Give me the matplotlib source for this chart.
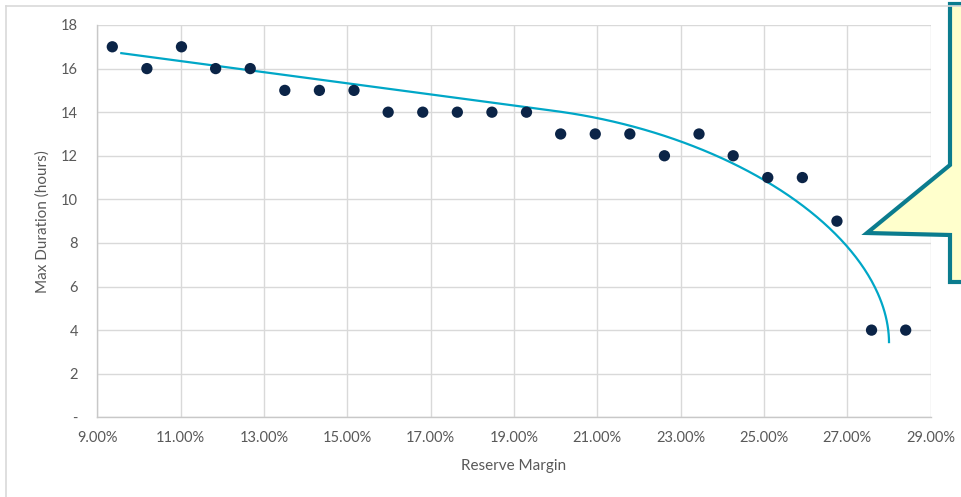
import numpy as np
import matplotlib
matplotlib.use("Agg")
import matplotlib.pyplot as plt
from matplotlib.ticker import FuncFormatter
from matplotlib.patches import Polygon
from matplotlib.lines import Line2D
from matplotlib.transforms import Affine2D

plt.rcParams['font.family'] = ['Lato', 'DejaVu Sans']

# Reserve margin (%) and maximum storage duration (hours)
reserve_margin = [9.36, 10.19, 11.02, 11.84, 12.67, 13.50, 14.33, 15.16,
                  15.98, 16.81, 17.64, 18.47, 19.30, 20.12, 20.95, 21.78,
                  22.61, 23.44, 24.26, 25.09, 25.92, 26.75, 27.58, 28.40]
max_duration = [17, 16, 17, 16, 16, 15, 15, 15,
                14, 14, 14, 14, 14, 13, 13, 13,
                12, 13, 12, 11, 11, 9, 4, 4]

# Trend curve: linear decline joined to an elliptical drop-off
trend_x_end = 28.0      # margin where duration collapses
trend_y_end = 3.4       # duration at the collapse point
trend_slope = 0.255     # hours lost per % of margin on the linear part
trend_drop = 8.61       # height of the elliptical drop-off
trend_width = 8.0       # width (in % margin) of the drop-off
trend_x_start = 9.55

x_ticks = [9, 11, 13, 15, 17, 19, 21, 23, 25, 27, 29]
y_ticks = [0, 2, 4, 6, 8, 10, 12, 14, 16, 18]

W, H = 961, 497
fig = plt.figure(figsize=(W / 100, H / 100), dpi=100)
ax = fig.add_axes([97.3 / W, 1 - 417.3 / H, (930.7 - 97.3) / W, (417.3 - 25) / H])

grid_c = '#D9D9D9'
text_c = '#595959'

ax.set_xlim(9, 29)
ax.set_ylim(0, 18)
ax.set_xticks(x_ticks)
ax.set_yticks(y_ticks)
ax.grid(True, color=grid_c, linewidth=1.0, zorder=0)
ax.set_axisbelow(True)
for side in ['top', 'right']:
    ax.spines[side].set_visible(False)
for side in ['left', 'bottom']:
    ax.spines[side].set_color('#C8C8C8')
    ax.spines[side].set_linewidth(1.0)
ax.tick_params(length=0, labelsize=10.5, colors=text_c, pad=10)
ax.tick_params(axis='y', pad=14)
ax.xaxis.set_major_formatter(FuncFormatter(lambda v, p: f"{v:.2f}%"))
ax.yaxis.set_major_formatter(FuncFormatter(lambda v, p: "-" if v == 0 else f"{v:g}"))

ax.set_xlabel('Reserve Margin', fontsize=11, color=text_c, labelpad=10)
ax.set_ylabel('Max Duration (hours)', fontsize=11, color=text_c, labelpad=8)

# trend curve
theta = np.linspace(0, np.pi / 2, 200)
d_arc = trend_width * (1 - np.cos(theta))
d_lin = np.linspace(trend_width, trend_x_end - trend_x_start, 50)
d_all = np.concatenate([d_arc, d_lin[1:]])
g_all = np.concatenate([trend_drop * np.sin(theta), np.full(len(d_lin) - 1, trend_drop)])
tx = trend_x_end - d_all
ty = trend_y_end + trend_slope * d_all + g_all
ax.plot(tx, ty, color='#00A7C7', linewidth=1.6, zorder=2, solid_capstyle='butt')

ax.scatter(reserve_margin, max_duration, s=66, color='#0B2447', zorder=3,
           edgecolors='none')

# outer chart frame (pixel coordinates, origin top-left)
px = Affine2D().scale(1, -1).translate(0, H)
frame_c = '#D9D9D9'
fig.add_artist(Line2D([6, 6], [6, H], transform=px, color=frame_c, linewidth=1.2))
fig.add_artist(Line2D([6, W], [6, 6], transform=px, color=frame_c, linewidth=1.2))

# callout shape
callout = Polygon([(950, 4), (975, 4), (975, 282), (950, 282), (950, 235),
                   (867, 233), (950, 165)], closed=True, transform=px,
                  facecolor='#FFFFCC', edgecolor='#0B7C8E', linewidth=3.0,
                  joinstyle='miter')
fig.add_artist(callout)

fig.savefig('out.png', dpi=100)
